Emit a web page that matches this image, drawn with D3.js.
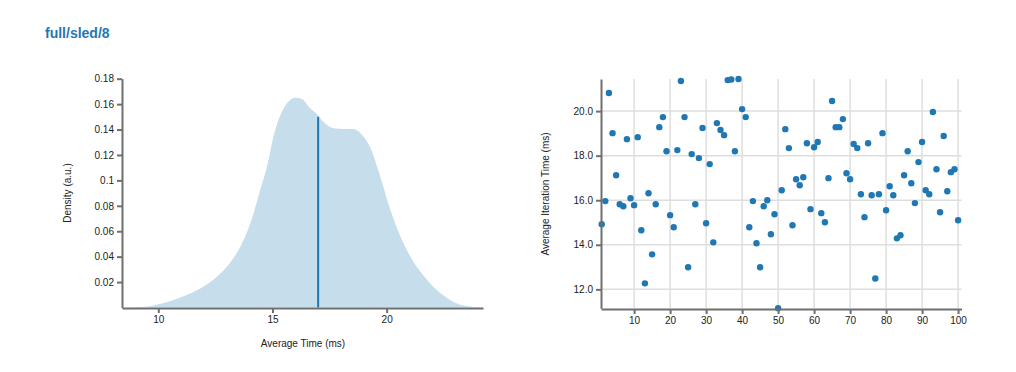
<!DOCTYPE html>
<html><head><meta charset="utf-8">
<script src="https://cdn.jsdelivr.net/npm/d3@7"></script>
<style>
body{margin:0;background:#fff;}
text{font-family:"Liberation Sans",Arial,Helvetica,sans-serif;}
.axis path,.axis line{stroke:#6f6f6f;stroke-width:2;}
.axis text{font-size:10px;fill:#222;}
</style></head>
<body>
<svg id="c" width="1016" height="372"></svg>
<script>
const title = "full/sled/8";
// KDE curve (Average Time in ms, density)
const kdeX = [8.41,9.5,10,10.5,11.25,11.84,12.42,13.0,13.6,14.03,14.47,14.76,15.05,15.34,15.7,16.0,16.3,16.58,16.95,17.24,17.68,18.1,18.55,18.92,19.28,19.72,20.16,20.6,21.04,21.62,22.2,22.79,23.37,24.22];
const kdeY = [0,0.0006,0.0025,0.005,0.0098,0.015,0.022,0.032,0.048,0.066,0.093,0.111,0.135,0.151,0.162,0.165,0.164,0.158,0.152,0.146,0.141,0.1405,0.1405,0.136,0.126,0.103,0.077,0.056,0.040,0.025,0.0137,0.0058,0.0016,0];
const meanTime = 17.0;
const meanDensity = 0.150;
const densityTicks = [0.02,0.04,0.06,0.08,0.1,0.12,0.14,0.16,0.18];
const timeTicks = [10,15,20];
// Per-sample average iteration time (ms), samples 1..100
const iterTimes = [14.92,15.96,20.81,19.01,17.12,15.82,15.73,18.74,16.09,15.78,
18.83,14.65,12.27,16.31,13.57,15.82,19.28,19.73,18.20,15.33,
14.79,18.25,21.35,19.73,12.99,18.07,15.82,17.89,19.24,14.97,
17.62,14.11,19.46,19.15,18.92,21.39,21.42,18.20,21.44,20.09,
19.73,14.79,15.96,14.07,12.99,15.73,16.00,14.47,15.37,11.15,
16.45,19.19,18.34,14.88,16.94,16.67,17.03,18.56,15.60,18.38,
18.61,15.42,15.01,16.99,20.45,19.28,19.28,19.64,17.21,16.94,
18.52,18.34,16.27,15.24,18.56,16.22,12.49,16.27,19.01,15.55,
16.63,16.22,14.29,14.43,17.12,18.20,16.76,15.87,17.71,18.61,
16.45,16.27,19.96,17.39,15.46,18.88,16.40,17.26,17.39,15.10];
const sampleTicks = [10,20,30,40,50,60,70,80,90,100];
const iterTicks = [12,14,16,18,20];

const svg = d3.select("#c");
const blue = "#1f77b4";

svg.append("text").attr("x",45).attr("y",38).attr("fill",blue)
  .attr("font-size","14px").attr("font-weight","bold").text(title);

// ---- Left: density ----
const x1 = d3.scaleLinear().domain([8.41,24.22]).range([122,483]);
const y1 = d3.scaleLinear().domain([0,0.18]).range([307.5,78.7]);
const kde = kdeX.map((v,i)=>[v,kdeY[i]]);
const g1 = svg.append("g");
g1.append("path").datum(kde)
  .attr("d", d3.area().x(d=>x1(d[0])).y0(y1(0)).y1(d=>y1(d[1])).curve(d3.curveMonotoneX))
  .attr("fill", "rgb(198,221,235)");
g1.append("line").attr("x1",x1(meanTime)).attr("x2",x1(meanTime))
  .attr("y1",y1(0)).attr("y2",y1(meanDensity)).attr("stroke",blue).attr("stroke-width",2);
g1.append("g").attr("class","axis").attr("transform","translate(0,308)")
  .call(d3.axisBottom(x1).tickValues(timeTicks).tickSize(5).tickSizeOuter(0).tickFormat(d3.format("d")));
g1.append("g").attr("class","axis").attr("transform","translate(122,0)")
  .call(d3.axisLeft(y1).tickValues(densityTicks).tickSize(5).tickSizeOuter(0).tickFormat(d=>d3.format("~g")(d)));
g1.select(".axis path");
g1.append("text").attr("x",303).attr("y",347).attr("text-anchor","middle").attr("font-size","10px").attr("fill","#222").text("Average Time (ms)");
g1.append("text").attr("transform","translate(71,193) rotate(-90)").attr("text-anchor","middle").attr("font-size","10px").attr("fill","#222").text("Density (a.u.)");

// ---- Right: scatter ----
const x2 = d3.scaleLinear().domain([0.8,100.95]).range([601,961.5]);
const y2 = d3.scaleLinear().domain(d3.extent(iterTimes)).range([308.3,79]);
const g2 = svg.append("g");
g2.selectAll("line.vg").data(sampleTicks).enter().append("line")
  .attr("x1",d=>x2(d)).attr("x2",d=>x2(d)).attr("y1",79).attr("y2",308)
  .attr("stroke","#dedede").attr("stroke-width",1.5);
g2.selectAll("line.hg").data(iterTicks).enter().append("line")
  .attr("x1",601).attr("x2",961.5).attr("y1",d=>y2(d)).attr("y2",d=>y2(d))
  .attr("stroke","#dedede").attr("stroke-width",1.5);
g2.selectAll("circle").data(iterTimes).enter().append("circle")
  .attr("cx",(d,i)=>x2(i+1)).attr("cy",d=>y2(d)).attr("r",3.2).attr("fill",blue);
g2.append("g").attr("class","axis").attr("transform","translate(0,309)")
  .call(d3.axisBottom(x2).tickValues(sampleTicks).tickSize(5).tickSizeOuter(0).tickFormat(d3.format("d")));
g2.append("g").attr("class","axis").attr("transform","translate(601,0)")
  .call(d3.axisLeft(y2).tickValues(iterTicks).tickSize(5).tickSizeOuter(0).tickFormat(d3.format(".1f")));
g2.append("text").attr("transform","translate(549,194) rotate(-90)").attr("text-anchor","middle").attr("font-size","10px").attr("fill","#222").text("Average Iteration Time (ms)");
</script>
</body></html>
